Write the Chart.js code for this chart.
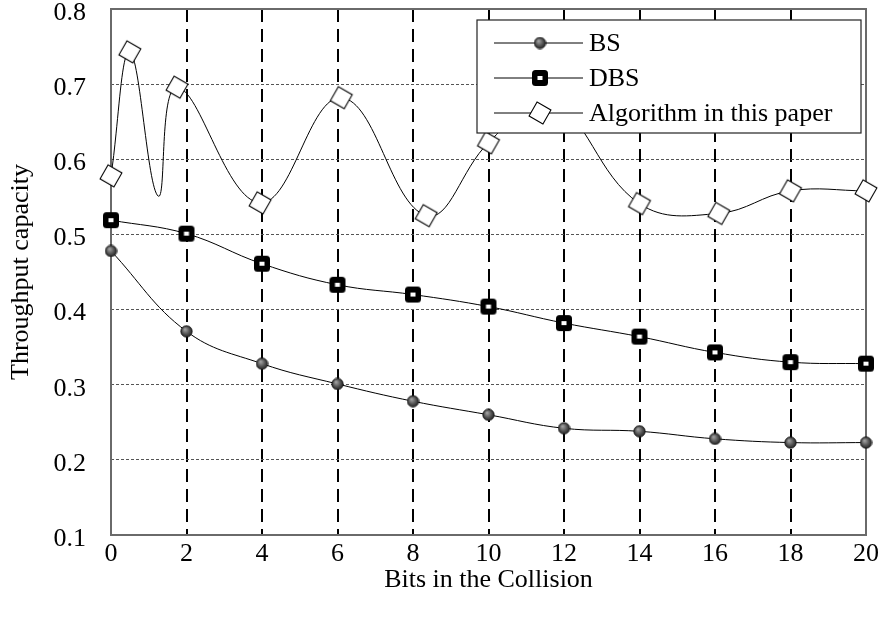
<!DOCTYPE html>
<html>
<head>
<meta charset="utf-8">
<script src="https://cdn.jsdelivr.net/npm/chart.js@4/dist/chart.umd.min.js"></script>
<style>
  html, body { margin: 0; padding: 0; background: #fff; }
</style>
</head>
<body>
<canvas id="chart" width="881" height="624"></canvas>
<script>
// values
var bits = [0, 2, 4, 6, 8, 10, 12, 14, 16, 18, 20];
var bsValues  = [0.478, 0.371, 0.328, 0.301, 0.278, 0.260, 0.242, 0.238, 0.228, 0.223, 0.223];
var dbsValues = [0.519, 0.501, 0.461, 0.433, 0.420, 0.404, 0.382, 0.364, 0.343, 0.330, 0.328];

// the proposed algorithm is sampled at irregular positions
var algBits   = [0, 0.5, 1.25, 1.75, 3.95, 6.1, 8.35, 10, 11.6, 14, 16.1, 18, 20];
var algValues = [0.578, 0.743, 0.551, 0.696, 0.542, 0.682, 0.525, 0.622, 0.68, 0.541, 0.528, 0.558, 0.558];
// curve points that carry no marker
var algHidden = [false, false, true, false, false, false, false, false, false, false, false, false, false];

var seriesNames = ['BS', 'DBS', 'Algorithm in this paper'];
var xTitle = 'Bits in the Collision';
var yTitle = 'Throughput capacity';

var serif = "'Liberation Serif', 'Times New Roman', serif";

function pairs(xs, ys) {
    var out = [];
    for (var i = 0; i < xs.length; i++) out.push({ x: xs[i], y: ys[i] });
    return out;
}

// marker pictures
function sphereMarker() {
    var c = document.createElement('canvas');
    c.width = 13; c.height = 13;
    var g = c.getContext('2d');
    var grad = g.createRadialGradient(5, 4.5, 0.5, 6.5, 6.5, 6.5);
    grad.addColorStop(0, '#a0a0a0');
    grad.addColorStop(0.6, '#4a4a4a');
    grad.addColorStop(1, '#1c1c1c');
    g.beginPath();
    g.arc(6.5, 6.5, 5.7, 0, Math.PI * 2);
    g.fillStyle = grad;
    g.fill();
    g.lineWidth = 0.8;
    g.strokeStyle = '#111';
    g.stroke();
    return c;
}

function squareMarker() {
    var c = document.createElement('canvas');
    c.width = 18; c.height = 18;
    var g = c.getContext('2d');
    var r = 3.5, x = 1, y = 1, s = 16;
    g.beginPath();
    g.moveTo(x + r, y);
    g.arcTo(x + s, y, x + s, y + s, r);
    g.arcTo(x + s, y + s, x, y + s, r);
    g.arcTo(x, y + s, x, y, r);
    g.arcTo(x, y, x + s, y, r);
    g.closePath();
    g.fillStyle = '#000';
    g.fill();
    g.fillStyle = '#fff';
    g.fillRect(6.5, 7, 5, 4);
    return c;
}

function diamondMarker() {
    var c = document.createElement('canvas');
    c.width = 26; c.height = 26;
    var g = c.getContext('2d');
    g.translate(13, 13);
    g.rotate(Math.PI / 6);
    g.fillStyle = '#fff';
    g.fillRect(-8, -8, 16, 16);
    g.lineWidth = 1.1;
    g.strokeStyle = '#000';
    g.strokeRect(-8, -8, 16, 16);
    return c;
}

var algRadius = algHidden.map(function (h) { return h ? 0 : 8; });

function near(v, t) { return Math.abs(v - t) < 1e-6; }

// plot frame drawn over the grid
var frame = {
    id: 'frame',
    beforeDatasetsDraw: function (chart) {
        var a = chart.chartArea, ctx = chart.ctx;
        ctx.save();
        ctx.lineWidth = 2;
        ctx.strokeStyle = '#6a6a6a';
        ctx.strokeRect(a.left, a.top, a.right - a.left, a.bottom - a.top);
        ctx.restore();
    }
};

// legend box inside the plot, drawn on top of the lines
var boxLegend = {
    id: 'boxLegend',
    afterDatasetsDraw: function (chart) {
        var ctx = chart.ctx, a = chart.chartArea;
        var w = 384, h = 113;
        var x0 = a.right - 5 - w, y0 = a.top + 11;
        ctx.save();
        ctx.fillStyle = '#fff';
        ctx.fillRect(x0, y0, w, h);
        ctx.lineWidth = 1.2;
        ctx.strokeStyle = '#222';
        ctx.strokeRect(x0, y0, w, h);
        chart.data.datasets.forEach(function (ds, i) {
            var cy = y0 + 23 + i * 35;
            ctx.beginPath();
            ctx.moveTo(x0 + 17, cy);
            ctx.lineTo(x0 + 106, cy);
            ctx.lineWidth = 1;
            ctx.strokeStyle = '#000';
            ctx.stroke();
            var img = ds.pointStyle;
            ctx.drawImage(img, x0 + 63 - img.width / 2, cy - img.height / 2);
            ctx.fillStyle = '#000';
            ctx.font = '26px ' + serif;
            ctx.textBaseline = 'middle';
            ctx.textAlign = 'left';
            ctx.fillText(ds.label, x0 + 112, cy + 1);
        });
        ctx.restore();
    }
};

var ctx = document.getElementById('chart');
var chart = new Chart(ctx, {
    type: 'line',
    data: {
        datasets: [{
            label: seriesNames[0],
            data: pairs(bits, bsValues),
            borderColor: '#000',
            borderWidth: 1,
            tension: 0.4,
            pointStyle: sphereMarker(),
            pointRadius: 6,
            clip: false
        }, {
            label: seriesNames[1],
            data: pairs(bits, dbsValues),
            borderColor: '#000',
            borderWidth: 1,
            tension: 0.4,
            pointStyle: squareMarker(),
            pointRadius: 8,
            clip: false
        }, {
            label: seriesNames[2],
            data: pairs(algBits, algValues),
            borderColor: '#000',
            borderWidth: 1,
            tension: 0.4,
            pointStyle: diamondMarker(),
            pointRadius: algRadius,
            clip: false
        }]
    },
    options: {
        responsive: false,
        animation: false,
        events: [],
        layout: { padding: { left: 0, right: 15, top: 8, bottom: 0 } },
        plugins: {
            legend: { display: false },
            tooltip: { enabled: false }
        },
        scales: {
            x: {
                type: 'linear',
                min: 0,
                max: 20,
                afterFit: function (s) {
                    s.height = 89;
                    s.paddingLeft = 0;
                    s.paddingRight = 0;
                },
                ticks: {
                    stepSize: 2,
                    padding: 4,
                    color: '#000',
                    font: { family: serif, size: 26 },
                    maxRotation: 0
                },
                grid: {
                    drawTicks: false,
                    lineWidth: 2,
                    color: function (c) {
                        var v = c.tick.value;
                        return (near(v, 0) || near(v, 20)) ? 'rgba(0,0,0,0)' : '#000';
                    }
                },
                border: { display: false, dash: [13, 7] },
                title: {
                    display: true,
                    text: xTitle,
                    color: '#000',
                    font: { family: serif, size: 26 },
                    padding: { top: 0, bottom: 28 }
                }
            },
            y: {
                min: 0.1,
                max: 0.8,
                afterFit: function (s) {
                    s.width = 111;
                    s.paddingTop = 0;
                    s.paddingBottom = 0;
                },
                ticks: {
                    stepSize: 0.1,
                    padding: 25,
                    labelOffset: 4,
                    color: '#000',
                    font: { family: serif, size: 26 },
                    callback: function (v) { return Number(v).toFixed(1); }
                },
                grid: {
                    drawTicks: false,
                    lineWidth: 1,
                    color: function (c) {
                        var v = c.tick.value;
                        return (near(v, 0.1) || near(v, 0.8)) ? 'rgba(0,0,0,0)' : '#555';
                    }
                },
                border: { display: false, dash: [3, 2] },
                title: {
                    display: true,
                    text: yTitle,
                    color: '#000',
                    font: { family: serif, size: 26 },
                    padding: { top: 6, bottom: 0 }
                }
            }
        }
    },
    plugins: [frame, boxLegend]
});
</script>
</body>
</html>
